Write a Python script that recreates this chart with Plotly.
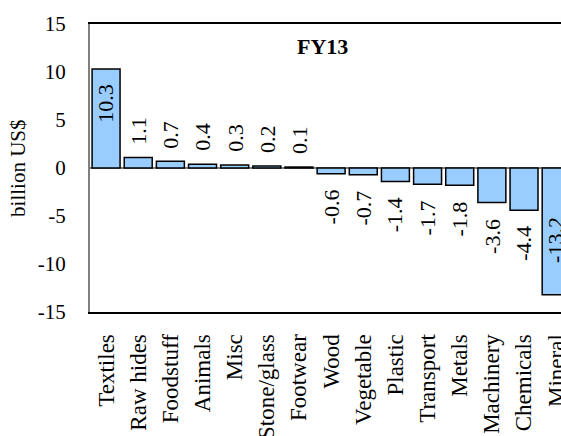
import plotly.graph_objects as go

categories = ["Textiles", "Raw hides", "Foodstuff", "Animals", "Misc", "Stone/glass",
              "Footwear", "Wood", "Vegetable", "Plastic", "Transport", "Metals",
              "Machinery", "Chemicals", "Mineral"]
values = [10.3, 1.1, 0.7, 0.4, 0.3, 0.2, 0.1, -0.6, -0.7, -1.4, -1.7, -1.8, -3.6, -4.4, -13.2]
inside_labels = ["Textiles", "Mineral"]
y_ticks = [15, 10, 5, 0, -5, -10, -15]
y_tick_text = ["15", "10", "5", "0", "-5", "-10", "-15"]
title_text = "FY13"
y_title = "billion US$"

FONT = "Liberation Serif, Times New Roman, serif"

fig = go.Figure()
fig.add_trace(go.Bar(
    x=categories, y=values,
    marker=dict(color="#99CCFF", line=dict(color="black", width=1.5)),
    showlegend=False,
))

annotations = []
for c, v in zip(categories, values):
    txt = f"{v:.1f}"
    if c in inside_labels:
        if v > 0:
            annotations.append(dict(x=c, y=v, text=txt, textangle=-90, yanchor="top",
                                    yshift=-13, showarrow=False))
        else:
            annotations.append(dict(x=c, y=v, text=txt, textangle=-90, yanchor="bottom",
                                    yshift=30, showarrow=False))
    elif v >= 0:
        annotations.append(dict(x=c, y=v, text=txt, textangle=-90, yanchor="bottom",
                                yshift=11, showarrow=False))
    else:
        annotations.append(dict(x=c, y=v, text=txt, textangle=-90, yanchor="top",
                                yshift=-14, showarrow=False))
for a in annotations:
    a["xref"] = "x"
    a["yref"] = "y"
    a["font"] = dict(family=FONT, size=22, color="black")

annotations.append(dict(xref="paper", yref="paper", x=0.4926, y=0.9236, text="<b>" + title_text + "</b>",
                        showarrow=False, font=dict(family=FONT, size=22, color="black"),
                        xanchor="center", yanchor="middle"))
annotations.append(dict(xref="paper", yref="paper", x=-0.153, y=0.5, text=y_title, textangle=-90,
                        showarrow=False, font=dict(family=FONT, size=21, color="black"),
                        xanchor="center", yanchor="middle"))

fig.update_layout(
    width=561, height=436,
    margin=dict(l=90, r=0, t=24, b=124, autoexpand=False),
    paper_bgcolor="white", plot_bgcolor="white",
    bargap=0.13,
    annotations=annotations,
    font=dict(family=FONT, size=21, color="black"),
)
fig.update_xaxes(
    type="category", categoryorder="array", categoryarray=categories,
    range=[-0.5, 14.15], tickangle=-90,
    showline=True, linecolor="black", linewidth=2, mirror=True,
    showgrid=False, zeroline=False, ticks="", ticklabelstandoff=11,
    tickfont=dict(family=FONT, size=23, color="black"),
)
fig.update_yaxes(
    range=[-15, 15], tickvals=y_ticks, ticktext=y_tick_text,
    showline=True, linecolor="#808080", linewidth=2,
    showgrid=False, zeroline=True, zerolinecolor="#808080", zerolinewidth=2,
    ticks="", ticklabelstandoff=18,
    tickfont=dict(family=FONT, size=21, color="black"),
)

fig.write_html("out.html")
